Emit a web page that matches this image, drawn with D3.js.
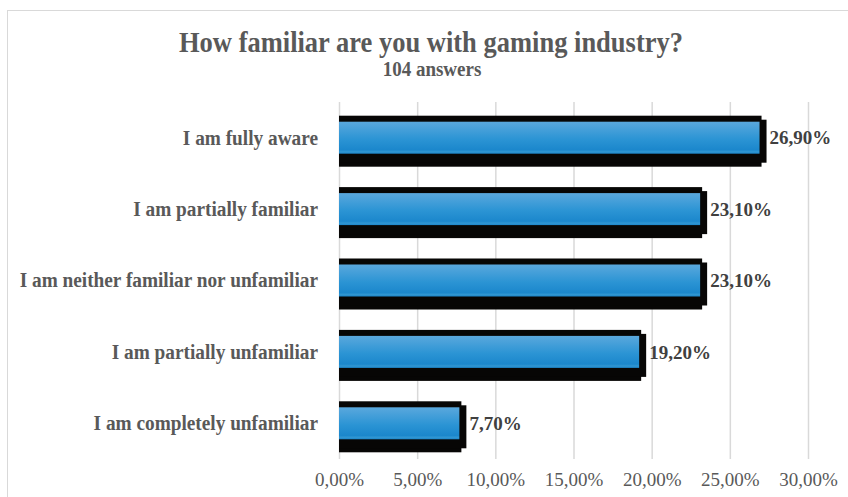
<!DOCTYPE html>
<html>
<head>
<meta charset="utf-8">
<script src="https://cdn.jsdelivr.net/npm/d3@7/dist/d3.min.js"></script>
<style>
  html, body { margin: 0; padding: 0; background: #fff; }
  svg { display: block; }
</style>
</head>
<body>
<svg id="chart" width="848" height="497"></svg>
<script>
// Survey answers, top to bottom
const categories = [
  "I am fully aware",
  "I am partially familiar",
  "I am neither familiar nor unfamiliar",
  "I am partially unfamiliar",
  "I am completely unfamiliar"
];
const shares = [26.9, 23.1, 23.1, 19.2, 7.7];
const tickValues = [0, 5, 10, 15, 20, 25, 30];

const titleText = "How familiar are you with gaming industry?";
const subtitleText = "104 answers";

const fmt = v => v.toFixed(2).replace(".", ",") + "%";

const svg = d3.select("#chart");
const font = "'Liberation Serif', 'Times New Roman', serif";

// outer frame
svg.append("rect")
  .attr("x", 7.5).attr("y", 10.5)
  .attr("width", 860).attr("height", 520)
  .attr("fill", "none").attr("stroke", "#d9d9d9").attr("stroke-width", 1);

const x = d3.scaleLinear().domain([0, 30]).range([339, 808]);
const y = d3.scaleBand().domain(categories).range([102, 459]).padding(0);

// gradient for the bar fill
const defs = svg.append("defs");
const grad = defs.append("linearGradient")
  .attr("id", "barFill").attr("x1", 0).attr("y1", 0).attr("x2", 0).attr("y2", 1);
grad.append("stop").attr("offset", "0%").attr("stop-color", "#5aa8dd");
grad.append("stop").attr("offset", "55%").attr("stop-color", "#2b94d4");
grad.append("stop").attr("offset", "88%").attr("stop-color", "#1b87cc");
grad.append("stop").attr("offset", "94%").attr("stop-color", "#3096d2");
grad.append("stop").attr("offset", "100%").attr("stop-color", "#1b86cb");

// vertical gridlines with tick labels
const axis = d3.axisBottom(x)
  .tickValues(tickValues)
  .tickFormat(fmt)
  .tickSize(-(459 - 102))
  .tickPadding(14);

const gx = svg.append("g")
  .attr("transform", "translate(0,459)")
  .call(axis);
gx.select(".domain").remove();
gx.selectAll(".tick line").attr("stroke", "#d9d9d9").attr("stroke-width", 1.5);
gx.selectAll(".tick text")
  .attr("fill", "#595959")
  .style("font-family", font)
  .style("font-size", "19px");

const blueH = 32;
const bars = svg.append("g").selectAll("g")
  .data(categories.map((c, i) => ({ c, v: shares[i] })))
  .join("g");

const cy = d => y(d.c) + y.bandwidth() / 2;

// black drop shadow behind each bar
bars.append("rect")
  .attr("x", x(0))
  .attr("y", d => cy(d) - blueH / 2 - 6)
  .attr("width", d => x(d.v) - x(0) + 2)
  .attr("height", blueH + 19)
  .attr("fill", "#070605");
bars.append("rect")
  .attr("x", x(0))
  .attr("y", d => cy(d) - blueH / 2 - 2)
  .attr("width", d => x(d.v) - x(0) + 7)
  .attr("height", blueH + 11)
  .attr("fill", "#070605");

// blue bar face
bars.append("rect")
  .attr("x", x(0))
  .attr("y", d => cy(d) - blueH / 2)
  .attr("width", d => x(d.v) - x(0))
  .attr("height", blueH)
  .attr("fill", "url(#barFill)");

// value labels
bars.append("text")
  .attr("x", d => x(d.v) + 10)
  .attr("y", d => cy(d))
  .attr("dy", "0.35em")
  .attr("fill", "#404040")
  .style("font-family", font)
  .style("font-weight", "bold")
  .style("font-size", "19px")
  .text(d => fmt(d.v));

// category labels (slightly tall glyphs)
svg.append("g").selectAll("text")
  .data(categories)
  .join("text")
  .attr("transform", d => `translate(318,${y(d) + y.bandwidth() / 2 + 6.8}) scale(1,1.04)`)
  .attr("text-anchor", "end")
  .attr("fill", "#595959")
  .style("font-family", font)
  .style("font-weight", "bold")
  .style("font-size", "19.3px")
  .text(d => d);

// title block
svg.append("text")
  .attr("transform", "translate(431,51.5) scale(1,1.08)")
  .attr("text-anchor", "middle")
  .attr("fill", "#595959")
  .style("font-family", font)
  .style("font-weight", "bold")
  .style("font-size", "26.5px")
  .text(titleText);
svg.append("text")
  .attr("transform", "translate(432,75.5) scale(1,1.05)")
  .attr("text-anchor", "middle")
  .attr("fill", "#595959")
  .style("font-family", font)
  .style("font-weight", "bold")
  .style("font-size", "19px")
  .text(subtitleText);
</script>
</body>
</html>
